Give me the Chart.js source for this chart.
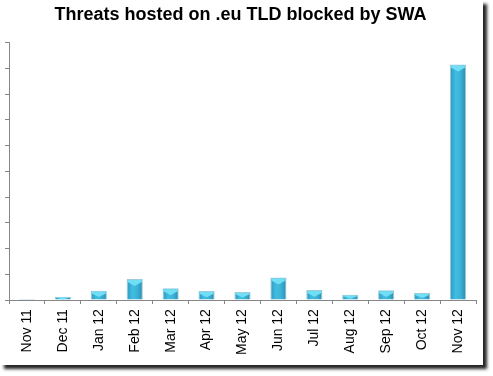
<!DOCTYPE html>
<html>
<head>
<script src="https://cdn.jsdelivr.net/npm/chart.js"></script>
<style>
  body { margin: 0; background: #fff; }
  #frame { position: absolute; left: 0; top: 0; width: 483px; height: 365px; background: #fff;
           box-shadow: 4px 4px 3px 0 #262626; }
</style>
</head>
<body>
<div id="frame"><canvas id="chart" width="483" height="365"></canvas></div>
<script>
    var months = ['Nov 11', 'Dec 11', 'Jan 12', 'Feb 12', 'Mar 12', 'Apr 12', 'May 12',
                  'Jun 12', 'Jul 12', 'Aug 12', 'Sep 12', 'Oct 12', 'Nov 12'];
    var threats = [4, 13, 36, 82, 46, 35, 31, 88, 39, 21, 38, 28, 915];
    var barPct = 0.45;

    // horizontal gradient per bar, so each one looks a bit like a cylinder
    function barFill(ctx) {
        var chart = ctx.chart, xs = chart.scales.x;
        if (!xs || !chart.chartArea) return '#38aed3';
        var cx = xs.getPixelForValue(ctx.dataIndex);
        var w = (xs.width / months.length) * barPct;
        var g = chart.ctx.createLinearGradient(cx - w / 2, 0, cx + w / 2, 0);
        g.addColorStop(0, '#3196ba');
        g.addColorStop(0.35, '#40bde2');
        g.addColorStop(0.65, '#3bb3d8');
        g.addColorStop(1, '#2c8aad');
        return g;
    }

    // light cap on top of every bar
    var barCap = {
        id: 'barCap',
        afterDatasetsDraw: function(chart) {
            var c = chart.ctx;
            chart.getDatasetMeta(0).data.forEach(function(bar) {
                var l = bar.x - bar.width / 2, r = bar.x + bar.width / 2;
                var h = bar.base - bar.y;
                var cap = Math.min(6, h * 0.6);
                if (h < 1) return;
                c.save();
                c.fillStyle = '#70def5';
                c.beginPath();
                c.moveTo(l + 1, bar.y + 1);
                c.lineTo(r - 1, bar.y + 1);
                c.lineTo(r - 1, bar.y + cap * 0.5);
                c.lineTo(bar.x, bar.y + cap + 1);
                c.lineTo(l + 1, bar.y + cap * 0.5);
                c.closePath();
                c.fill();
                c.restore();
            });
        }
    };

    var chart = new Chart(document.getElementById('chart'), {
        type: 'bar',
        data: {
            labels: months,
            datasets: [{
                data: threats,
                backgroundColor: barFill,
                borderColor: '#9ccbdb',
                borderWidth: 1,
                barPercentage: barPct,
                categoryPercentage: 1
            }]
        },
        options: {
            responsive: false,
            animation: false,
            layout: { padding: { left: 5, right: 7, top: 0, bottom: 5 } },
            plugins: {
                legend: { display: false },
                tooltip: { enabled: false },
                title: {
                    display: true,
                    text: 'Threats hosted on .eu TLD blocked by SWA',
                    color: '#000',
                    font: { family: 'Liberation Sans', size: 18, weight: 'bold' },
                    padding: { top: 4, bottom: 17 }
                }
            },
            scales: {
                x: {
                    border: { color: '#868686' },
                    grid: { drawOnChartArea: false, color: '#868686', tickLength: 4, offset: true },
                    ticks: {
                        color: '#000',
                        font: { family: 'Liberation Sans', size: 14 },
                        maxRotation: 90, minRotation: 90, padding: 5
                    }
                },
                y: {
                    min: 0, max: 1000,
                    border: { color: '#868686' },
                    grid: { drawOnChartArea: false, color: '#868686', tickLength: 4 },
                    ticks: { display: false, stepSize: 100 }
                }
            }
        },
        plugins: [barCap]
    });
</script>
</body>
</html>
